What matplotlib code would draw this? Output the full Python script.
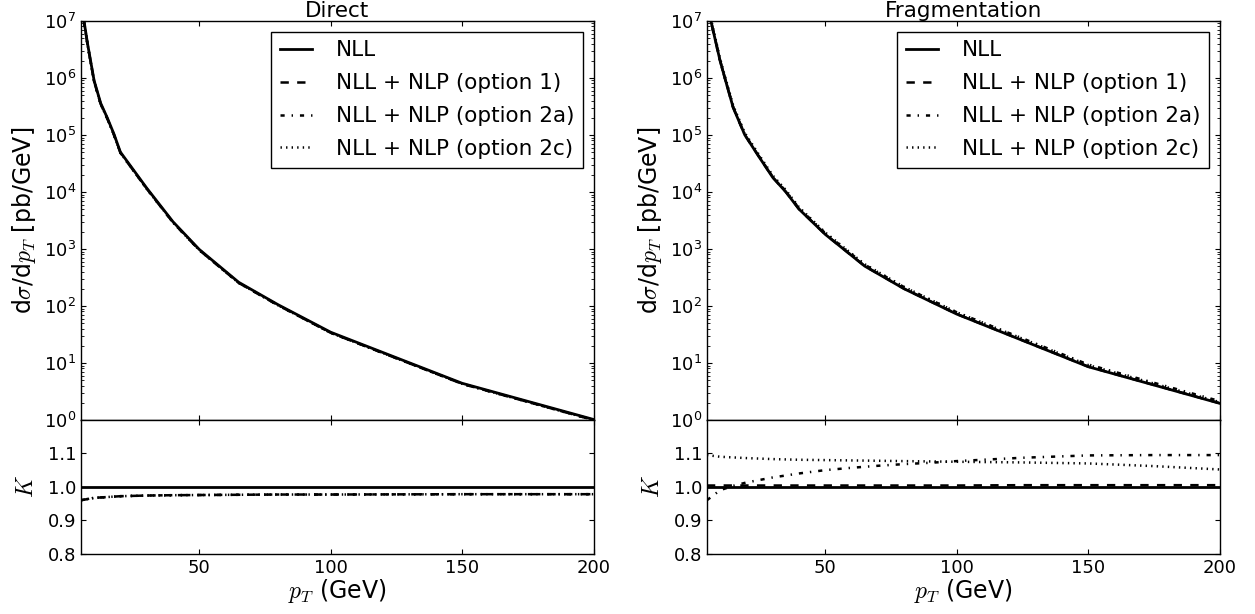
import numpy as np
import matplotlib.pyplot as plt

plt.rcParams['font.family'] = ['DejaVu Sans']
plt.rcParams['mathtext.fontset'] = 'cm'
plt.rcParams['xtick.direction'] = 'in'
plt.rcParams['ytick.direction'] = 'in'
plt.rcParams['xtick.top'] = True
plt.rcParams['ytick.right'] = True
plt.rcParams['xtick.labelsize'] = 13
plt.rcParams['ytick.labelsize'] = 13
# old style dashes, not scaled by line width
plt.rcParams['lines.scale_dashes'] = False
plt.rcParams['lines.dashed_pattern'] = [6, 6]
plt.rcParams['lines.dashdot_pattern'] = [3, 5, 1, 5]
plt.rcParams['lines.dotted_pattern'] = [1, 3]

################################################################################################
# DATA
################################################################################################

# Direct
pt_dir = [5, 7.5, 10, 12.5, 15, 17.5, 20, 30, 40, 50, 65, 80, 100, 150, 200]
nll_dir = [2.2e7, 4.0e6, 9.0e5, 3.6e5, 2.0e5, 1.05e5, 5.0e4, 1.17e4, 3.0e3, 9.8e2, 2.6e2, 1.05e2, 34.6, 4.4, 1.02]

k_pt_dir = [5, 10, 20, 30, 40, 60, 80, 100, 150, 200]
k1_dir = [0.960, 0.967, 0.972, 0.974, 0.975, 0.976, 0.977, 0.977, 0.978, 0.978]
k2a_dir = [0.960, 0.967, 0.972, 0.974, 0.975, 0.976, 0.977, 0.977, 0.978, 0.978]
k2c_dir = [0.960, 0.967, 0.972, 0.974, 0.975, 0.976, 0.977, 0.977, 0.978, 0.978]

# Fragmentation
pt_frag = [5, 6.5, 10, 11.8, 15, 19.4, 25, 30, 35, 40, 50, 65, 80, 100, 150, 200]
nll_frag = [1.6e7, 1.0e7, 2.0e6, 1.0e6, 3.0e5, 1.0e5, 4.0e4, 1.8e4, 1.0e4, 5.0e3, 1.8e3, 5.0e2, 2.0e2, 72, 8.6, 1.96]

k_pt_frag = [5, 10, 15, 20, 30, 40, 50, 60, 70, 80, 90, 100, 125, 150, 175, 200]
k1_frag = [1.004, 1.004, 1.004, 1.004, 1.004, 1.004, 1.004, 1.004, 1.004, 1.004, 1.004, 1.004, 1.005, 1.005, 1.005, 1.005]
k2a_frag = [0.960, 0.990, 1.003, 1.013, 1.028, 1.040, 1.050, 1.057, 1.063, 1.068, 1.072, 1.077, 1.087, 1.094, 1.095, 1.095]
k2c_frag = [1.095, 1.090, 1.088, 1.086, 1.083, 1.081, 1.080, 1.079, 1.078, 1.077, 1.076, 1.075, 1.073, 1.070, 1.062, 1.052]

labels = ['NLL', 'NLL + NLP (option 1)', 'NLL + NLP (option 2a)', 'NLL + NLP (option 2c)']
styles = ['-', '--', '-.', ':']

################################################################################################
# PLOT STUFF
################################################################################################

fig = plt.figure(figsize=(12.55, 6.14), dpi=100)

panels = [
    ('Direct', pt_dir, nll_dir, k_pt_dir, [k1_dir, k2a_dir, k2c_dir], 0.0645),
    ('Fragmentation', pt_frag, nll_frag, k_pt_frag, [k1_frag, k2a_frag, k2c_frag], 0.5633),
]

for title, pt, nll, kpt, ks, left in panels:
    width = 0.4085
    ax = fig.add_axes([left, 0.316, width, 0.650])
    axr = fig.add_axes([left, 0.0982, width, 0.2178], sharex=ax)

    pt = np.array(pt)
    nll = np.array(nll)
    kpt = np.array(kpt)

    ax.semilogy(pt, nll, color='black', ls='-', lw=2, label=labels[0])
    axr.plot(kpt, np.ones_like(kpt, dtype=float), color='black', ls='-', lw=2)
    for k, ls, lab in zip(ks, styles[1:], labels[1:]):
        # option curves = NLL times K factor
        kk = np.interp(np.log(pt), np.log(kpt), k)
        ax.semilogy(pt, nll * kk, color='black', ls=ls, lw=1.8, label=lab)
        axr.plot(kpt, k, color='black', ls=ls, lw=1.8)

    ax.set_xlim(5, 200)
    ax.set_ylim(1, 1e7)
    ax.set_title(title, fontsize=15.5, pad=2)
    ax.set_ylabel(r'd$\sigma$/d$p_T$ [pb/GeV]', fontsize=17)
    ax.tick_params(labelbottom=False)
    ax.set_xticks([50, 100, 150, 200])
    leg = ax.legend(loc='upper right', fontsize=15.5, fancybox=False, edgecolor='black',
                    framealpha=1, handlelength=1.5, handletextpad=1.1, borderaxespad=0.5,
                    labelspacing=0.6)
    leg.get_frame().set_linewidth(1)

    axr.set_ylim(0.8, 1.2)
    axr.set_yticks([0.8, 0.9, 1.0, 1.1])
    axr.set_ylabel(r'$K$', fontsize=17, labelpad=7)
    axr.set_xlabel(r'$p_T$ (GeV)', fontsize=17, labelpad=0)

    for a in (ax, axr):
        for s in a.spines.values():
            s.set_linewidth(1)

plt.savefig('out.png', dpi=100)
